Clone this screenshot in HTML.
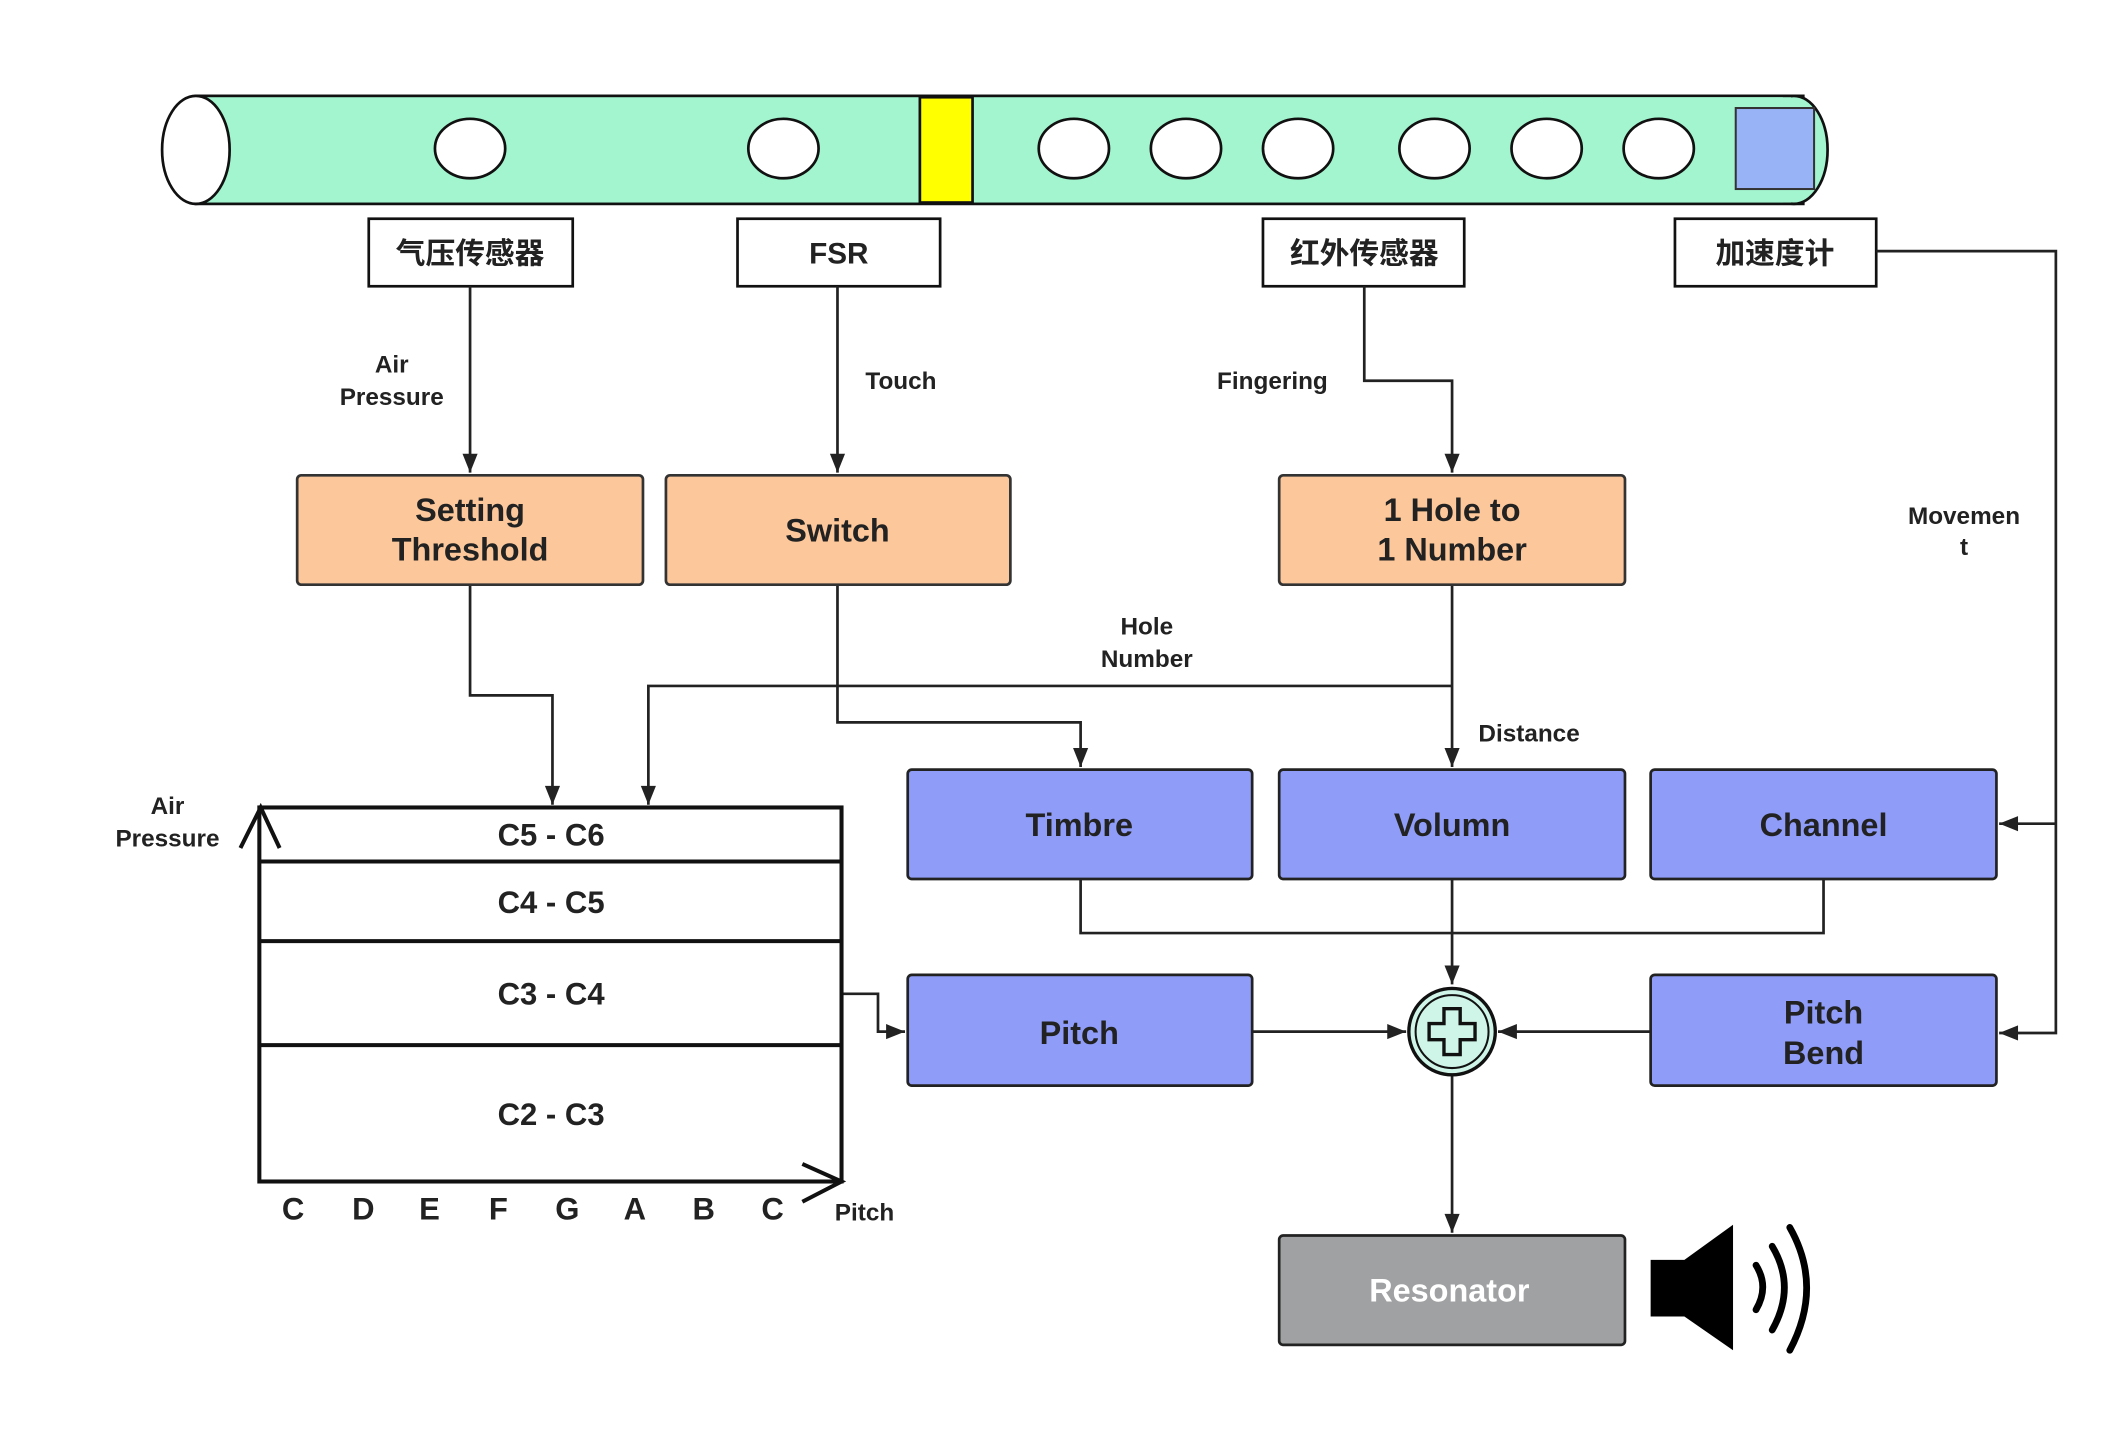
<!DOCTYPE html>
<html><head><meta charset="utf-8"><style>
html,body{margin:0;padding:0;background:#fff;}
svg{display:block;}
text{font-family:"Liberation Sans","Noto Sans CJK SC",sans-serif;font-weight:bold;fill:#222;}
</style></head><body>
<svg width="2118" height="1434" viewBox="0 0 1568 1062" preserveAspectRatio="none" xmlns="http://www.w3.org/2000/svg">
<defs>
<marker id="b" viewBox="0 0 10 10" refX="10" refY="5" markerWidth="18" markerHeight="14" orient="auto" markerUnits="userSpaceOnUse"><path d="M0,1L10,5L0,9z" fill="#222"/></marker>
</defs>
<!-- flute -->
<rect x="145" y="71" width="1190" height="80" fill="#a2f5cf" stroke="#111" stroke-width="2"/>
<ellipse cx="1328" cy="111" rx="25" ry="40" fill="#a2f5cf" stroke="#111" stroke-width="2"/>
<rect x="1140" y="72" width="186" height="78" fill="#a2f5cf"/>
<ellipse cx="145" cy="111" rx="25" ry="40" fill="#fff" stroke="#111" stroke-width="2"/>
<rect x="681" y="72" width="39" height="78" fill="#ffff00" stroke="#111" stroke-width="2"/>
<rect x="1285" y="80" width="58" height="60" fill="#99b3f7" stroke="#333" stroke-width="1.5"/>
<g fill="#fff" stroke="#111" stroke-width="2">
<ellipse cx="348" cy="110" rx="26" ry="22"/><ellipse cx="580" cy="110" rx="26" ry="22"/>
<ellipse cx="795" cy="110" rx="26" ry="22"/><ellipse cx="878" cy="110" rx="26" ry="22"/>
<ellipse cx="961" cy="110" rx="26" ry="22"/><ellipse cx="1062" cy="110" rx="26" ry="22"/>
<ellipse cx="1145" cy="110" rx="26" ry="22"/><ellipse cx="1228" cy="110" rx="26" ry="22"/>
</g>
<!-- sensors -->
<g fill="#fff" stroke="#111" stroke-width="2">
<rect x="273" y="162" width="151" height="50"/><rect x="546" y="162" width="150" height="50"/>
<rect x="935" y="162" width="149" height="50"/><rect x="1240" y="162" width="149" height="50"/>
</g>
<g font-size="22" text-anchor="middle">
<text x="348" y="195">气压传感器</text><text x="621" y="195">FSR</text>
<text x="1010" y="195">红外传感器</text><text x="1314" y="195">加速度计</text>
</g>
<!-- connectors -->
<g fill="none" stroke="#222" stroke-width="2">
<path d="M348,212V350" marker-end="url(#b)"/>
<path d="M620,212V350" marker-end="url(#b)"/>
<path d="M1010,212V282H1075V350" marker-end="url(#b)"/>
<path d="M1389,186H1522V765H1480" marker-end="url(#b)"/>
<path d="M1522,610H1480" marker-end="url(#b)"/>
<path d="M348,433V515H409V596" marker-end="url(#b)"/>
<path d="M620,433V535H800V568" marker-end="url(#b)"/>
<path d="M1075,433V568" marker-end="url(#b)"/>
<path d="M1075,508H480V596" marker-end="url(#b)"/>
<path d="M800,651V691H1350V651"/>
<path d="M1075,651V729" marker-end="url(#b)"/>
<path d="M927,764H1041" marker-end="url(#b)"/>
<path d="M1222,764H1109" marker-end="url(#b)"/>
<path d="M1075,797V913" marker-end="url(#b)"/>
<path d="M623,736H650V764H670" marker-end="url(#b)"/>
</g>
<!-- orange boxes -->
<g fill="#fcc89b" stroke="#333" stroke-width="2">
<rect x="220" y="352" width="256" height="81" rx="3"/><rect x="493" y="352" width="255" height="81" rx="3"/>
<rect x="947" y="352" width="256" height="81" rx="3"/>
</g>
<g font-size="24" text-anchor="middle">
<text x="348" y="386">Setting</text><text x="348" y="415">Threshold</text>
<text x="620" y="401">Switch</text>
<text x="1075" y="386">1 Hole to</text><text x="1075" y="415">1 Number</text>
</g>
<!-- blue boxes -->
<g fill="#8f9cf8" stroke="#222" stroke-width="2">
<rect x="672" y="570" width="255" height="81" rx="3"/><rect x="947" y="570" width="256" height="81" rx="3"/>
<rect x="1222" y="570" width="256" height="81" rx="3"/>
<rect x="672" y="722" width="255" height="82" rx="3"/><rect x="1222" y="722" width="256" height="82" rx="3"/>
</g>
<rect x="947" y="915" width="256" height="81" rx="3" fill="#a0a1a3" stroke="#222" stroke-width="2"/>
<g font-size="24" text-anchor="middle">
<text x="799" y="619">Timbre</text><text x="1075" y="619">Volumn</text><text x="1350" y="619">Channel</text>
<text x="799" y="773">Pitch</text><text x="1350" y="758">Pitch</text><text x="1350" y="788">Bend</text>
<text x="1073" y="964" style="fill:#fff">Resonator</text>
</g>
<!-- plus circle -->
<circle cx="1075" cy="764" r="32" fill="#cff5e8" stroke="#111" stroke-width="2.5"/>
<circle cx="1075" cy="764" r="27" fill="none" stroke="#111" stroke-width="1.5"/>
<path d="M1069,747h12v11h11v12h-11v11h-12v-11h-11v-12h11z" fill="none" stroke="#111" stroke-width="2.5"/>
<!-- labels -->
<g font-size="18" text-anchor="middle">
<text x="290" y="276">Air</text><text x="290" y="300">Pressure</text>
<text x="667" y="288">Touch</text><text x="942" y="288">Fingering</text>
<text x="849" y="470">Hole</text><text x="849" y="494">Number</text>
<text x="1132" y="549">Distance</text>
<text x="1454" y="388">Movemen</text><text x="1454" y="411">t</text>
<text x="124" y="603">Air</text><text x="124" y="627">Pressure</text>
<text x="640" y="904">Pitch</text>
</g>
<!-- chart -->
<g fill="none" stroke="#111" stroke-width="3">
<rect x="192" y="598" width="431" height="277" fill="#fff"/>
<path d="M192,638H623M192,697H623M192,774H623"/>
<path d="M178,628L193,598L207,628"/>
<path d="M594,862L623,875L594,890"/>
</g>
<g font-size="23" text-anchor="middle">
<text x="408" y="626">C5 - C6</text><text x="408" y="676">C4 - C5</text>
<text x="408" y="744">C3 - C4</text><text x="408" y="833">C2 - C3</text>
</g>
<g font-size="23" text-anchor="middle">
<text x="217" y="903">C</text><text x="269" y="903">D</text><text x="318" y="903">E</text><text x="369" y="903">F</text>
<text x="420" y="903">G</text><text x="470" y="903">A</text><text x="521" y="903">B</text><text x="572" y="903">C</text>
</g>
<!-- speaker -->
<path d="M1222,933H1247L1283,907V1000L1247,975H1222z" fill="#000"/>
<g fill="none" stroke="#000" stroke-width="5" stroke-linecap="round">
<path d="M1300,937Q1310,953 1300,970"/>
<path d="M1312,923Q1330,953 1312,985"/>
<path d="M1325,909Q1350,953 1325,1000"/>
</g>
</svg>
</body></html>
